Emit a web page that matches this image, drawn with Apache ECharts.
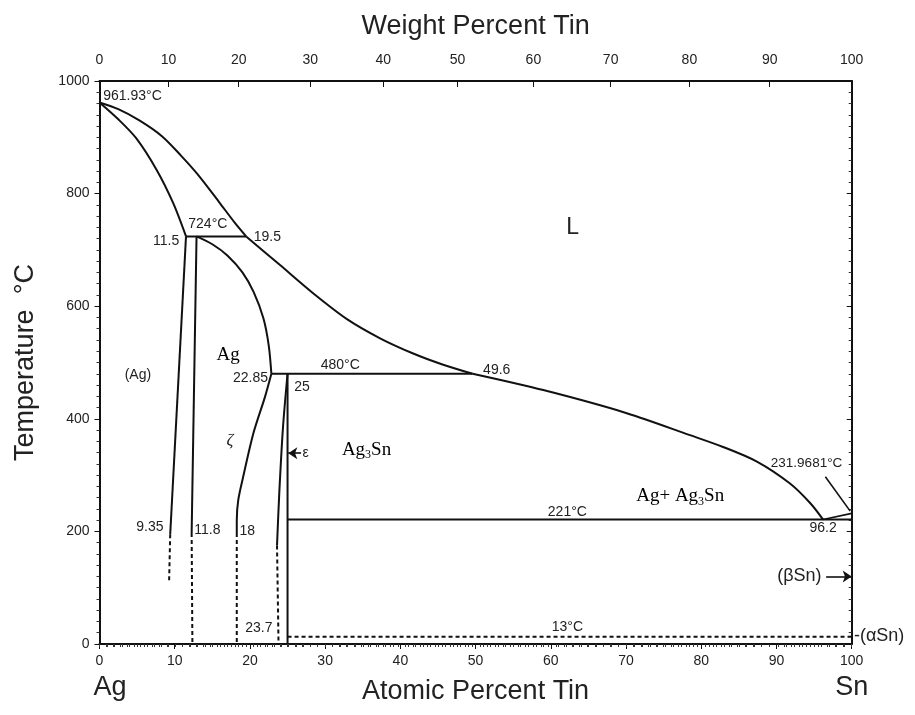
<!DOCTYPE html>
<html>
<head>
<meta charset="utf-8">
<script src="https://cdn.jsdelivr.net/npm/echarts@6/dist/echarts.min.js"></script>
<style>html,body{margin:0;padding:0;background:#fff}#c{width:915px;height:715px}</style>
</head>
<body>
<div id="c"></div>
<script>
// ---- data (atomic % Sn, temperature °C) ----
const liquidusUpper = [[0,961.93],[2.5,950],[5.3,930],[8.3,902],[10.8,868],[13.0,835],[15.9,785],[18.0,748],[19.5,724]];
const liquidusMid = [[19.5,724],[24.0,673],[28.4,623],[32.9,577],[37.3,543],[41.7,516],[45.5,497],[49.6,480]];
const liquidusLower = [[49.6,480],[59.0,451],[70.1,410],[78.5,371],[82.9,350],[87.4,324],[91.8,285],[94.5,250],[96.2,221]];
const solidusAg = [[0,961.93],[2.5,932],[4.9,898],[7.6,842],[9.8,783],[11.5,724]];
const solvusAg = [[11.5,724],[9.4,195]];
const solvusAgDash = [[9.4,195],[9.25,110]];
const zetaLeft = [[12.9,724],[12.25,197]];
const zetaLeftDash = [[12.25,197],[12.35,0]];
const zetaRightUpper = [[12.9,724],[15.0,710],[17.0,690],[19.0,660],[20.5,625],[21.8,578],[22.5,530],[22.85,480]];
const zetaRightLower = [[22.85,480],[22.0,439],[20.45,374],[19.1,297],[18.45,256],[18.25,220],[18.25,197]];
const zetaRightDash = [[18.25,197],[18.25,0]];
const epsLeft = [[25.0,480],[24.4,386],[23.9,268],[23.6,175]];
const epsLeftDash = [[23.6,175],[23.8,0]];
const epsRight = [[25,480],[25,0]];
const peritectic724 = [[11.5,724],[19.5,724]];
const peritectic480 = [[22.85,480],[49.6,480]];
const eutectic221 = [[25,221],[100,221]];
const snSolidus = [[96.2,221],[100,231.97]];
const transition13 = [[25,13],[100,13]];

// pointers
const epsArrow = [[26.8,339],[25.1,339]];
const betaArrow = [[96.6,120],[100,120]];
const leader232 = [[96.5,297],[99.8,236]];

// top axis (weight percent Sn)
const wtTicks = [0,10,20,30,40,50,60,70,80,90,100];
const massAg = 107.8682, massSn = 118.71;
function wtToAt(w){ const a = w/massSn, b = (100-w)/massAg; return a+b===0?0:100*a/(a+b); }
const wtTickPos = wtTicks.map(wtToAt);
const wtMinor = []; for (let w=0; w<=100; w+=1) wtMinor.push(wtToAt(w));

// text annotations
const sans = 'Liberation Sans, Arial, sans-serif';
const serif = 'Liberation Serif, Times New Roman, serif';
const notes = [
  {t:'961.93°C', x:0.5, y:973, a:'left', s:14},
  {t:'724°C', x:14.4, y:746, a:'center', s:14},
  {t:'11.5', x:10.6, y:715, a:'right', s:14},
  {t:'19.5', x:20.5, y:723, a:'left', s:14},
  {t:'L', x:62.9, y:739, a:'center', s:23},
  {t:'(Ag)', x:5.1, y:478, a:'center', s:14},
  {t:'{a|Ag}', x:17.1, y:513, a:'center', s:19, rich:true},
  {t:'22.85', x:22.4, y:472, a:'right', s:14},
  {t:'480°C', x:32.0, y:496, a:'center', s:14},
  {t:'25', x:25.9, y:457, a:'left', s:14},
  {t:'49.6', x:51.0, y:487, a:'left', s:14},
  {t:'ζ', x:17.35, y:362, a:'center', s:17, it:true},
  {t:'ε', x:27.0, y:339, a:'left', s:14},
  {t:'{a|Ag}{s|3}{a|Sn}', x:35.5, y:345, a:'center', s:19, rich:true},
  {t:'231.9681°C', x:94.0, y:321, a:'center', s:13.5},
  {t:'{a|Ag+ Ag}{s|3}{a|Sn}', x:77.2, y:262, a:'center', s:19, rich:true},
  {t:'221°C', x:62.2, y:234, a:'center', s:14},
  {t:'96.2', x:96.2, y:205, a:'center', s:14},
  {t:'9.35', x:6.7, y:207, a:'center', s:14},
  {t:'11.8', x:12.6, y:202, a:'left', s:14},
  {t:'18', x:18.6, y:201, a:'left', s:14},
  {t:'23.7', x:23.0, y:28, a:'right', s:14},
  {t:'13°C', x:62.2, y:30, a:'center', s:14},
  {t:'(βSn)', x:96.0, y:120, a:'right', s:18},
  {t:'-(αSn)', x:100.3, y:14, a:'left', s:18},
  {t:'Ag', x:1.4, y:-78, a:'center', s:27},
  {t:'Sn', x:100, y:-78, a:'center', s:27}
];

const black = '#111';
function lineSeries(data, dashed, w){
  return {type:'line', data:data, symbol:'none', silent:true, animation:false,
    lineStyle:{color:black, width:w||2, type: dashed?[4,3]:'solid'}, z:3};
}
function smoothSeries(data){
  const s = lineSeries(data, false, 2);
  s.smooth = 0.3; return s;
}
function pointer(pts, arrow){
  return {type:'line', data:[], silent:true, animation:false,
    markLine:{silent:true, animation:false, symbol:['none', arrow?'arrow':'none'], symbolSize:9,
      label:{show:false}, emphasis:{disabled:true},
      lineStyle:{color:black, width:1.6, type:'solid'},
      data:[[{coord:pts[0]},{coord:pts[1]}]]}};
}

const chart = echarts.init(document.getElementById('c'), null, {renderer:'canvas'});
const axisText = {color:'#222', fontFamily:sans, fontSize:14};
chart.setOption({
  backgroundColor:'#fff',
  animation:false,
  grid:{left:99.5, right:63.3, top:81, bottom:71},
  xAxis:[
    {type:'value', position:'bottom', min:0, max:100, interval:10,
      name:'Atomic Percent Tin', nameLocation:'middle', nameGap:34,
      nameTextStyle:{color:'#222', fontFamily:sans, fontSize:27},
      axisLine:{show:true, onZero:false, lineStyle:{color:black, width:2}},
      axisTick:{show:true, length:5, lineStyle:{color:black}},
      minorTick:{show:true, splitNumber:10, length:3, lineStyle:{color:'#333'}},
      axisLabel:Object.assign({margin:10, formatter:v=>String(v)}, axisText),
      splitLine:{show:false}},
    {type:'value', position:'top', min:0, max:100,
      name:'Weight Percent Tin', nameLocation:'middle', nameGap:41,
      nameTextStyle:{color:'#222', fontFamily:sans, fontSize:27},
      axisLine:{show:true, onZero:false, lineStyle:{color:black, width:2}},
      axisTick:{show:true, inside:true, length:6, customValues:wtTickPos, lineStyle:{color:black}},
      axisLabel:Object.assign({margin:14, customValues:wtTickPos,
        formatter:function(v){ let best=0; for(let i=0;i<wtTickPos.length;i++){ if(Math.abs(wtTickPos[i]-v)<Math.abs(wtTickPos[best]-v)) best=i; } return String(wtTicks[best]); }}, axisText),
      splitLine:{show:false}},
    {type:'value', position:'top', min:0, max:100,
      axisLine:{show:false},
      axisTick:{show:true, inside:true, length:3, customValues:wtMinor, lineStyle:{color:'#333'}},
      axisLabel:{show:false}, splitLine:{show:false}}
  ],
  yAxis:[
    {type:'value', position:'left', min:0, max:1000, interval:200,
      name:'Temperature  °C', nameLocation:'middle', nameGap:60, nameRotate:90,
      nameTextStyle:{color:'#222', fontFamily:sans, fontSize:27},
      axisLine:{show:true, onZero:false, lineStyle:{color:black, width:2}},
      axisTick:{show:true, length:5, lineStyle:{color:black}},
      minorTick:{show:true, splitNumber:10, length:3, lineStyle:{color:'#333'}},
      axisLabel:Object.assign({margin:10, formatter:v=>String(v)}, axisText),
      splitLine:{show:false}},
    {type:'value', position:'right', min:0, max:1000, interval:200,
      axisLine:{show:true, onZero:false, lineStyle:{color:black, width:2}},
      axisTick:{show:true, inside:true, length:5, lineStyle:{color:black}},
      minorTick:{show:true, splitNumber:10, length:3, lineStyle:{color:'#333'}},
      axisLabel:{show:false}, splitLine:{show:false}}
  ],
  series:[
    smoothSeries(liquidusUpper),
    smoothSeries(liquidusMid),
    smoothSeries(liquidusLower),
    smoothSeries(solidusAg),
    lineSeries(solvusAg),
    lineSeries(solvusAgDash, true),
    lineSeries(zetaLeft),
    lineSeries(zetaLeftDash, true),
    smoothSeries(zetaRightUpper),
    smoothSeries(zetaRightLower),
    lineSeries(zetaRightDash, true),
    smoothSeries(epsLeft),
    lineSeries(epsLeftDash, true),
    lineSeries(epsRight),
    lineSeries(peritectic724),
    lineSeries(peritectic480),
    lineSeries(eutectic221),
    lineSeries(snSolidus, false, 1.6),
    lineSeries(transition13, true),
    pointer(epsArrow, true),
    pointer(betaArrow, true),
    pointer(leader232, false),
    {type:'custom', silent:true, animation:false, clip:false, z:5,
      data: notes.map(n=>[n.x,n.y]),
      renderItem:function(params, api){
        const n = notes[params.dataIndex];
        const p = api.coord([n.x, n.y]);
        const style = {text:n.t, x:0, y:0, fill:'#222', align:n.a, verticalAlign:'middle',
          fontFamily: n.it? serif : sans, fontSize:n.s, fontStyle: n.it?'italic':'normal'};
        if (n.rich) {
          style.fill = '#000';
          style.rich = {
            a:{fontFamily:serif, fontSize:n.s, lineHeight:22, fill:'#000'},
            s:{fontFamily:serif, fontSize:12, lineHeight:12, verticalAlign:'bottom', fill:'#000'}
          };
        }
        return {type:'text', x:p[0], y:p[1], style:style};
      }}
  ]
});
</script>
</body>
</html>
